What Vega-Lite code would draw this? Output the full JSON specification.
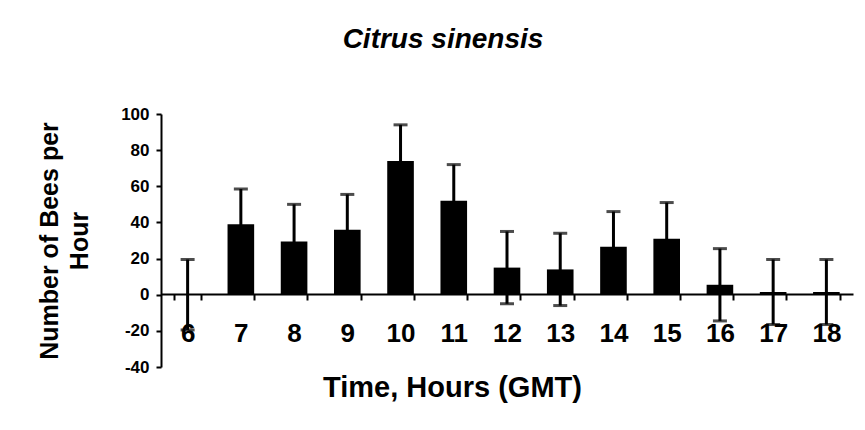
{
  "$schema": "https://vega.github.io/schema/vega-lite/v6.json",
  "width": 692,
  "height": 253,
  "autosize": {"type": "none"},
  "padding": {"left": 161, "top": 114, "right": 12, "bottom": 63},
  "background": "white",
  "title": {
    "text": "Citrus sinensis",
    "font": "Liberation Sans",
    "fontSize": 28,
    "fontStyle": "italic",
    "fontWeight": "bold",
    "color": "black",
    "anchor": "middle",
    "dx": -64,
    "baseline": "alphabetic",
    "offset": 29
  },
  "data": {
    "values": [
      {"hour": 6, "bees": 0, "err": 19.5},
      {"hour": 7, "bees": 39, "err": 19.5},
      {"hour": 8, "bees": 29.5, "err": 20.5},
      {"hour": 9, "bees": 36, "err": 19.5},
      {"hour": 10, "bees": 74, "err": 20},
      {"hour": 11, "bees": 52, "err": 20},
      {"hour": 12, "bees": 15, "err": 20},
      {"hour": 13, "bees": 14, "err": 20},
      {"hour": 14, "bees": 26.5, "err": 19.5},
      {"hour": 15, "bees": 31, "err": 20},
      {"hour": 16, "bees": 5.5, "err": 20},
      {"hour": 17, "bees": 1.5, "err": 18},
      {"hour": 18, "bees": 1.5, "err": 18}
    ]
  },
  "encoding": {
    "x": {
      "field": "hour",
      "type": "ordinal",
      "scale": {"paddingInner": 0.5, "paddingOuter": 0.25},
      "axis": {
        "title": "Time, Hours (GMT)",
        "labelAngle": 0,
        "offset": -73,
        "tickBand": "extent",
        "domainColor": "black",
        "domainWidth": 2,
        "tickColor": "black",
        "tickWidth": 2,
        "tickSize": 6,
        "labelFont": "Liberation Sans",
        "labelFontSize": 26,
        "labelFontWeight": "bold",
        "labelColor": "black",
        "labelPadding": 20,
        "titleFont": "Liberation Sans",
        "titleFontSize": 29,
        "titleFontWeight": "bold",
        "titleColor": "black",
        "titleX": 291,
        "titleY": 102,
        "titleBaseline": "alphabetic",
        "titleAlign": "center"
      }
    },
    "y": {
      "field": "bees",
      "type": "quantitative",
      "scale": {"domain": [-40, 100], "nice": false},
      "axis": {
        "title": ["Number of Bees per", "Hour"],
        "values": [-40, -20, 0, 20, 40, 60, 80, 100],
        "labelExpr": "'' + datum.value",
        "labelOverlap": false,
        "grid": false,
        "domainColor": "black",
        "domainWidth": 2,
        "tickColor": "black",
        "tickWidth": 2,
        "tickSize": 5,
        "labelFont": "Liberation Sans",
        "labelFontSize": 17,
        "labelFontWeight": "bold",
        "labelColor": "black",
        "labelPadding": 7,
        "titleFont": "Liberation Sans",
        "titleFontSize": 25,
        "titleFontWeight": "bold",
        "titleColor": "black",
        "titleLineHeight": 30,
        "titleBaseline": "alphabetic",
        "titleAngle": 270,
        "titleX": -104,
        "titleY": 126.5,
        "titleAlign": "center"
      }
    }
  },
  "layer": [
    {
      "mark": {
        "type": "errorbar",
        "color": "black",
        "ticks": {"size": 14, "thickness": 3, "color": "black"},
        "rule": {"strokeWidth": 3, "color": "black"}
      },
      "encoding": {
        "yError": {"field": "err"}
      }
    },
    {
      "mark": {"type": "bar", "color": "black"}
    }
  ],
  "config": {"view": {"stroke": null}}
}
